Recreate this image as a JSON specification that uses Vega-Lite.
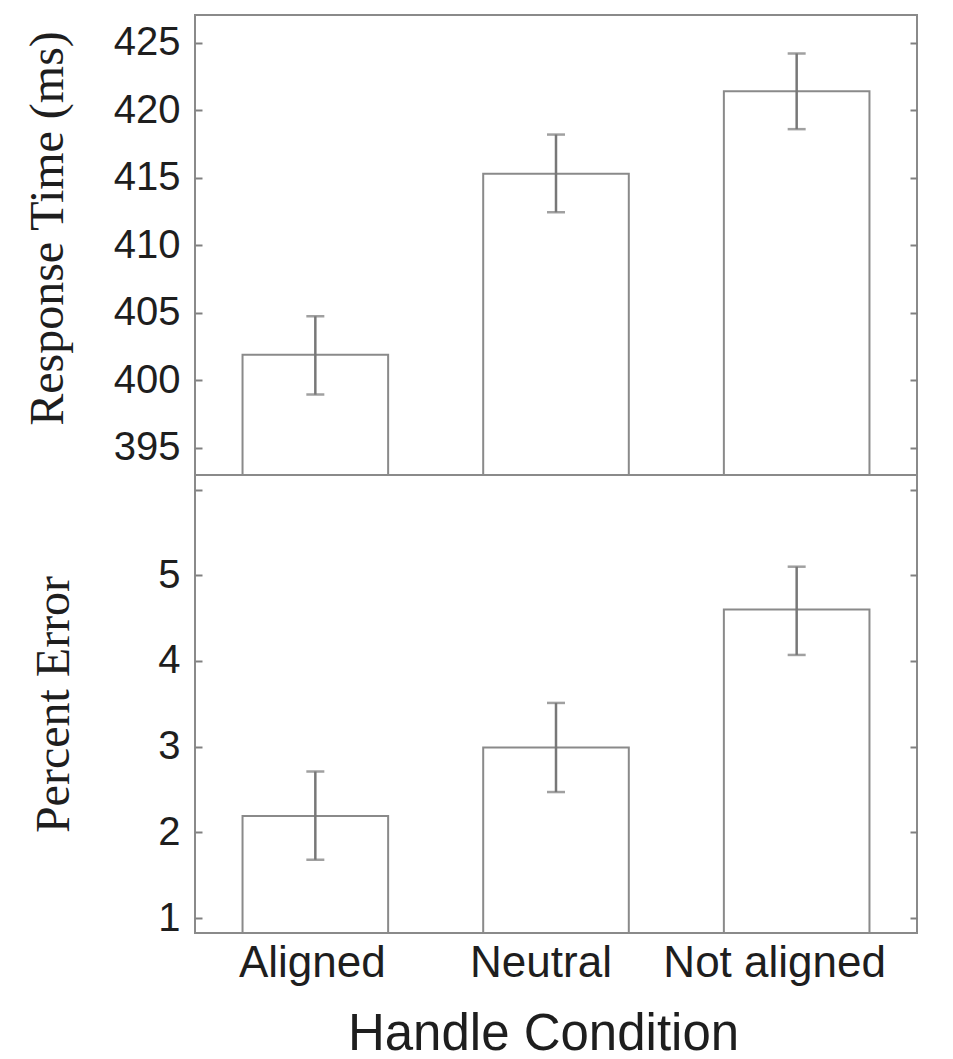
{
  "$schema": "https://vega.github.io/schema/vega-lite/v6.json",
  "background": "white",
  "padding": {"left": 23, "top": 14, "right": 5, "bottom": 10},
  "spacing": 0,
  "bounds": "flush",
  "datasets": {
    "rt": [
      {"cond": "Aligned", "mean": 401.9, "lo": 398.95, "hi": 404.75},
      {"cond": "Neutral", "mean": 415.3, "lo": 412.45, "hi": 418.2},
      {"cond": "Not aligned", "mean": 421.4, "lo": 418.6, "hi": 424.2}
    ],
    "pe": [
      {"cond": "Aligned", "mean": 2.19, "lo": 1.68, "hi": 2.71},
      {"cond": "Neutral", "mean": 2.99, "lo": 2.47, "hi": 3.51},
      {"cond": "Not aligned", "mean": 4.6, "lo": 4.07, "hi": 5.1}
    ]
  },
  "config": {
    "view": {"stroke": "#8a8a8a", "strokeWidth": 2},
    "axis": {
      "labelFont": "Liberation Sans",
      "labelColor": "#1e1e1e",
      "titleColor": "#1e1e1e",
      "tickColor": "#808080",
      "tickWidth": 2,
      "grid": false,
      "domain": false,
      "labelLimit": 0
    }
  },
  "vconcat": [
    {
      "width": 722,
      "height": 460,
      "data": {"name": "rt"},
      "layer": [
        {
          "layer": [
            {
              "mark": {"type": "bar", "fill": "white", "stroke": "#8a8a8a", "strokeWidth": 2},
              "encoding": {
                "x": {"field": "cond", "type": "nominal", "sort": null, "scale": {"paddingInner": 0.395, "paddingOuter": 0.1975}, "axis": null},
                "y": {
                  "field": "mean", "type": "quantitative",
                  "scale": {"domain": [393, 427.05], "zero": false, "nice": false},
                  "axis": {
                    "values": [395, 400, 405, 410, 415, 420, 425],
                    "format": "d",
                    "tickSize": -7,
                    "labelPadding": 22,
                    "labelFontSize": 40,
                    "title": "Response Time (ms)",
                    "titleFont": "Liberation Serif",
                    "titleFontSize": 48,
                    "titleFontWeight": "normal",
                    "titlePadding": 41,
                    "titleY": 213
                  }
                },
                "y2": {"datum": 393}
              }
            },
            {
              "mark": {"type": "rule", "stroke": "#777777", "strokeWidth": 2.5},
              "encoding": {
                "x": {"field": "cond", "type": "nominal", "sort": null, "axis": null},
                "y": {"field": "lo", "type": "quantitative"},
                "y2": {"field": "hi"}
              }
            },
            {
              "mark": {"type": "tick", "orient": "horizontal", "size": 18, "thickness": 2.5, "color": "#777777"},
              "encoding": {
                "x": {"field": "cond", "type": "nominal", "sort": null, "axis": null},
                "y": {"field": "lo", "type": "quantitative"}
              }
            },
            {
              "mark": {"type": "tick", "orient": "horizontal", "size": 18, "thickness": 2.5, "color": "#777777"},
              "encoding": {
                "x": {"field": "cond", "type": "nominal", "sort": null, "axis": null},
                "y": {"field": "hi", "type": "quantitative"}
              }
            }
          ]
        },
        {
          "mark": {"type": "point", "opacity": 0},
          "encoding": {
            "y": {
              "field": "mean", "type": "quantitative",
              "scale": {"domain": [393, 427.05], "zero": false, "nice": false},
              "axis": {"orient": "right", "labels": false, "title": null, "tickSize": -7, "values": [395, 400, 405, 410, 415, 420, 425]}
            }
          }
        }
      ],
      "resolve": {"scale": {"y": "independent"}}
    },
    {
      "width": 722,
      "height": 458,
      "data": {"name": "pe"},
      "layer": [
        {
          "layer": [
            {
              "mark": {"type": "bar", "fill": "white", "stroke": "#8a8a8a", "strokeWidth": 2},
              "encoding": {
                "x": {
                  "field": "cond", "type": "nominal", "sort": null,
                  "scale": {"paddingInner": 0.395, "paddingOuter": 0.1975},
                  "axis": {
                    "title": "Handle Condition",
                    "titleFont": "Liberation Sans",
                    "titleFontSize": 51,
                    "titleFontWeight": "normal",
                    "titlePadding": 24,
                    "titleX": 348,
                    "labelFontSize": 44,
                    "labelAngle": 0,
                    "ticks": false,
                    "labelPadding": 8,
                    "labelOffset": {
                      "condition": [
                        {"test": "datum.value == 'Aligned'", "value": -3},
                        {"test": "datum.value == 'Neutral'", "value": -15}
                      ],
                      "value": -22
                    }
                  }
                },
                "y": {
                  "field": "mean", "type": "quantitative",
                  "scale": {"domain": [0.825, 6.17], "zero": false, "nice": false},
                  "axis": {
                    "values": [1, 2, 3, 4, 5, 6],
                    "format": "d",
                    "labelExpr": "datum.value == 6 ? '' : datum.label",
                    "tickSize": -7,
                    "labelPadding": 22,
                    "labelFontSize": 40,
                    "title": "Percent Error",
                    "titleFont": "Liberation Serif",
                    "titleFontSize": 48,
                    "titleFontWeight": "normal",
                    "titlePadding": 79
                  }
                },
                "y2": {"datum": 0.825}
              }
            },
            {
              "mark": {"type": "rule", "stroke": "#777777", "strokeWidth": 2.5},
              "encoding": {
                "x": {"field": "cond", "type": "nominal", "sort": null},
                "y": {"field": "lo", "type": "quantitative"},
                "y2": {"field": "hi"}
              }
            },
            {
              "mark": {"type": "tick", "orient": "horizontal", "size": 18, "thickness": 2.5, "color": "#777777"},
              "encoding": {
                "x": {"field": "cond", "type": "nominal", "sort": null},
                "y": {"field": "lo", "type": "quantitative"}
              }
            },
            {
              "mark": {"type": "tick", "orient": "horizontal", "size": 18, "thickness": 2.5, "color": "#777777"},
              "encoding": {
                "x": {"field": "cond", "type": "nominal", "sort": null},
                "y": {"field": "hi", "type": "quantitative"}
              }
            }
          ]
        },
        {
          "mark": {"type": "point", "opacity": 0},
          "encoding": {
            "y": {
              "field": "mean", "type": "quantitative",
              "scale": {"domain": [0.825, 6.17], "zero": false, "nice": false},
              "axis": {"orient": "right", "labels": false, "title": null, "tickSize": -7, "values": [1, 2, 3, 4, 5, 6]}
            }
          }
        }
      ],
      "resolve": {"scale": {"y": "independent"}}
    }
  ]
}
